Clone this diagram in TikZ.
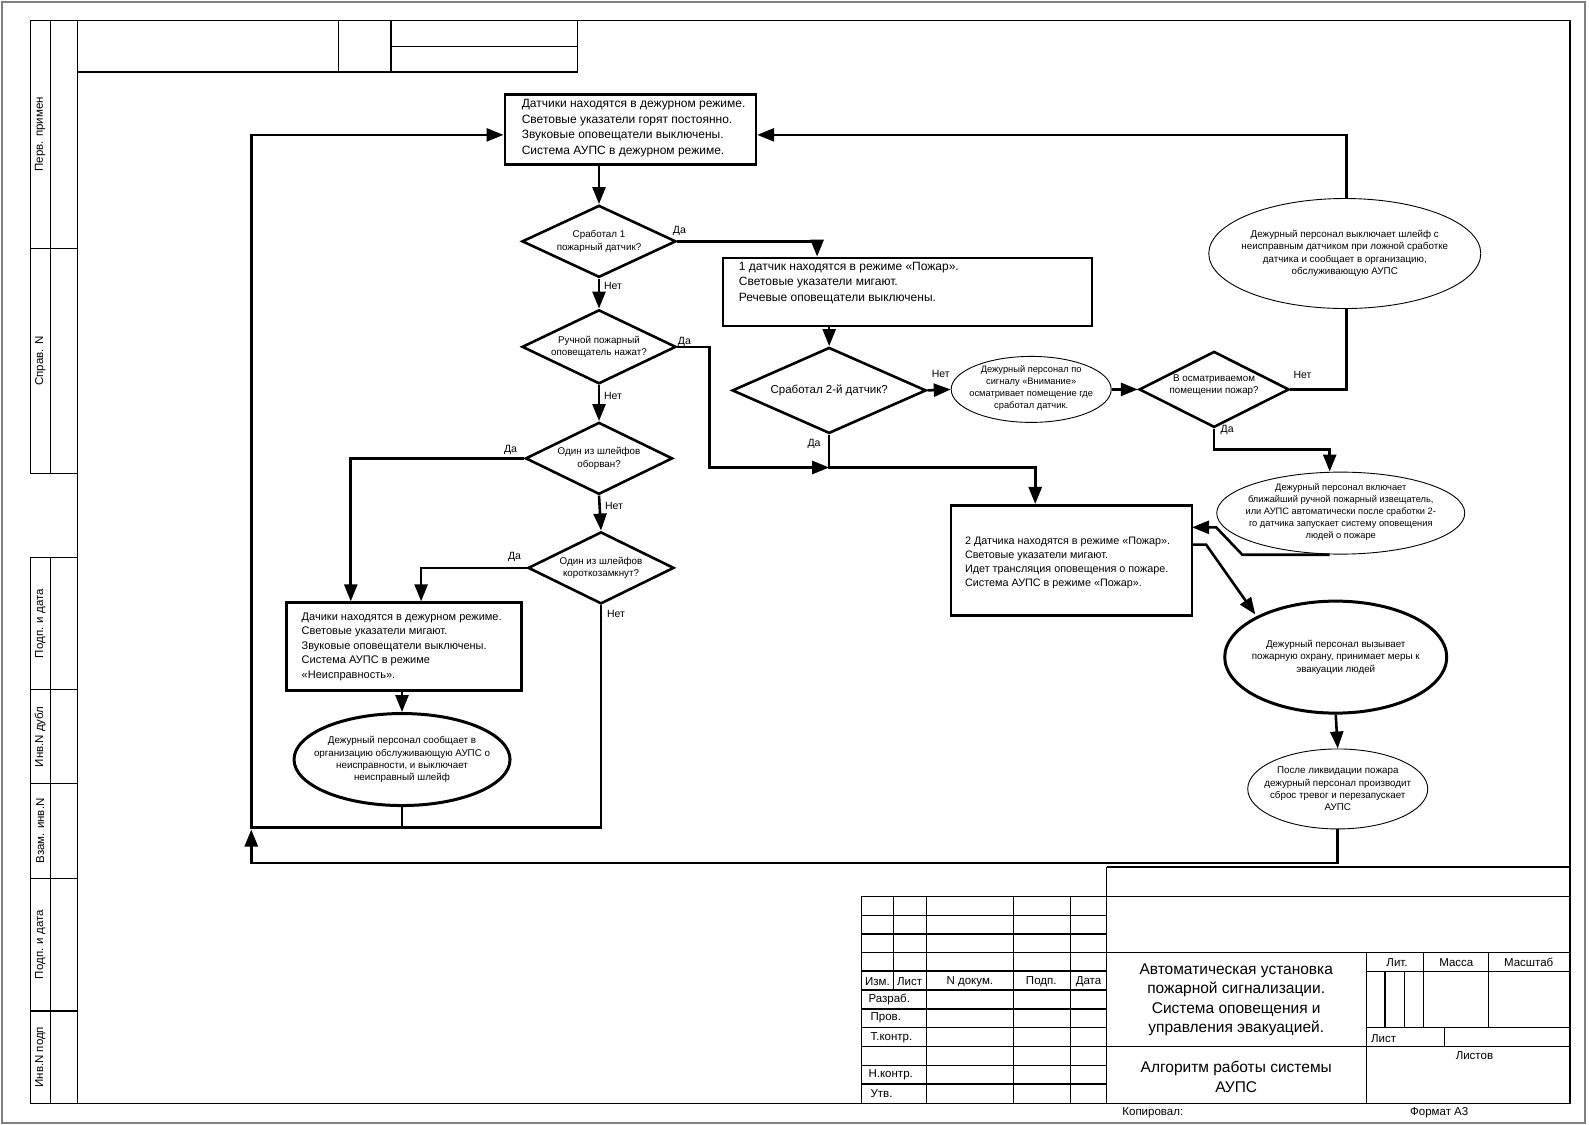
\documentclass[tikz,border=0pt]{standalone}
\usepackage{fontspec}
\setmainfont{Liberation Sans}
\usetikzlibrary{shapes.geometric,arrows.meta}
\begin{document}
\begin{tikzpicture}[x=1.005pt,y=-1.014pt,
  fl/.style={line width=2.6pt},
  ar/.style={fl,-{Triangle[length=17pt,width=13pt]}},
  box/.style={draw,line width=2.6pt,rectangle,anchor=north west,inner sep=0},
  dia/.style={draw,line width=2.6pt,diamond,inner sep=0},
  ell/.style={draw,line width=0.9pt,ellipse,inner sep=0},
  ct/.style={font=\fontsize{9.8}{12.3}\selectfont,align=center,inner sep=0},
  thk/.style={line width=3pt},
  lbl/.style={font=\fontsize{10.5}{12.5}\selectfont,inner sep=0},
  tb/.style={line width=1.1pt},
  tt/.style={font=\fontsize{11.5}{13}\selectfont,inner sep=0},
  bt/.style={font=\fontsize{12}{15.5}\selectfont,align=left,anchor=north west,inner sep=0}
]
\useasboundingbox (0,0) rectangle (1581,1108.5);
% outer frames
\draw[gray,line width=2pt] (1.5,1.5) rectangle (1577,1107);
\draw[line width=1.5pt] (77,20) rectangle (1562,1088);
% left strip
\foreach \a/\b/\t in {20/245/Перв. примен,245/467/Справ. N,550/680/Подп. и дата,680/773/Инв.N дубл,773/866/Взам. инв.N,866/997/Подп. и дата,997/1088/Инв.N подп}{
  \draw[tb] (30,\a) rectangle (77,\b);
  \draw[tb] (50,\a) -- (50,\b);
  \node[tt,rotate=90] (s\a) at (40,{(\a+\b)/2}) {\t};
}
% top-left block
\draw[tb] (77,71) -- (575,71) -- (575,20);
\draw[tb] (337,20) -- (337,71) (389,20) -- (389,71) (389,46) -- (575,46);
% title block
\draw[tb] (1101,855) -- (1562,855) (1101,855) -- (1101,1088) (1101,884) -- (1562,884);
\foreach \y in {884,902.5,921,939.5,958,976.5,995,1013.5,1032,1050.5,1069}{\draw[tb] (857,\y) -- (1101,\y);}
\draw[line width=2pt] (857,958) -- (1101,958) (857,976.5) -- (1101,976.5);
\draw[tb] (857,884) -- (857,1088);
\draw[tb] (889,884) -- (889,976.5) (922,884) -- (922,1088) (1008,884) -- (1008,1088) (1065,884) -- (1065,1088);
\draw[tb] (1101,939.5) -- (1562,939.5) (1101,1032) -- (1562,1032) (1360,939.5) -- (1360,1088);
\draw[tb] (1360,958) -- (1562,958) (1360,1013.5) -- (1562,1013.5);
\draw[tb] (1378,958) -- (1378,1013.5) (1397,958) -- (1397,1013.5) (1416,939.5) -- (1416,1013.5) (1481,939.5) -- (1481,1013.5) (1437,1013.5) -- (1437,1032);
\node[tt] (t1) at (873,968) {Изм.};
\node[tt] (t2) at (905,968) {Лист};
\node[tt] (t3) at (965,968) {N докум.};
\node[tt] (t4) at (1036,968) {Подп.};
\node[tt] (t5) at (1083,968) {Дата};
\node[tt,anchor=west] (t6) at (864,986) {Разраб.};
\node[tt,anchor=west] (t7) at (866,1004) {Пров.};
\node[tt,anchor=west] (t8) at (866,1023) {Т.контр.};
\node[tt,anchor=west] (t9) at (864,1060) {Н.контр.};
\node[tt,anchor=west] (t10) at (866,1078) {Утв.};
\node[tt] (t11) at (1390,949) {Лит.};
\node[tt] (t12) at (1449,949) {Масса};
\node[tt] (t13) at (1521,949) {Масштаб};
\node[tt,anchor=west] (t14) at (1364,1024) {Лист};
\node[tt] (t15) at (1467,1041) {Листов};
\node[font=\fontsize{15.5}{19.5}\selectfont,align=center,inner sep=0] (t16) at (1230,986) {Автоматическая установка\\пожарной сигнализации.\\Система оповещения и\\управления эвакуацией.};
\node[font=\fontsize{15.5}{19.5}\selectfont,align=center,inner sep=0] (t17) at (1230,1062) {Алгоритм работы системы\\АУПС};
\node[tt] (t18) at (1147,1097) {Копировал:};
\node[tt] (t19) at (1432,1097) {Формат А3};

% flowchart
\node[box,minimum width=251,minimum height=70] (b1) at (501,92) {};
\node[bt] (b1t) at (519,98) {Датчики находятся в дежурном режиме.\\Световые указатели горят постоянно.\\Звуковые оповещатели выключены.\\Система АУПС в дежурном режиме.};
\node[box,minimum width=369,minimum height=68] (b2) at (718,253) {};
\node[bt] (b2t) at (735,258) {1 датчик находятся в режиме «Пожар».\\Световые указатели мигают.\\Речевые оповещатели выключены.};
\node[box,minimum width=241,minimum height=110] (b3) at (945,497) {};
\node[bt,font=\fontsize{10.8}{14}\selectfont] (b3t) at (960,529) {2 Датчика  находятся в режиме «Пожар».\\Световые указатели мигают.\\Идет трансляция оповещения о пожаре.\\Система АУПС в  режиме «Пожар».};
\node[box,minimum width=235,minimum height=88] (b4) at (284,593) {};
\node[bt,font=\fontsize{11}{14.5}\selectfont] (b4t) at (300,604) {Дачики находятся в дежурном режиме.\\Световые указатели мигают.\\Звуковые оповещатели выключены.\\Система АУПС в  режиме\\«Неисправность».};

\node[dia,minimum width=154,minimum height=72] (d1) at (596,238) {};
\node[ct] (d1t) at (596,238) {Сработал 1\\пожарный датчик?};
\node[dia,minimum width=154,minimum height=74] (d2) at (596,342) {};
\node[ct] (d2t) at (596,342) {Ручной пожарный\\оповещатель нажат?};
\node[dia,minimum width=147,minimum height=72] (d3) at (596,452) {};
\node[ct] (d3t) at (596,452) {Один из шлейфов\\оборван?};
\node[dia,minimum width=146,minimum height=72] (d4) at (598,560) {};
\node[ct] (d4t) at (598,560) {Один из шлейфов\\короткозамкнут?};
\node[dia,minimum width=194,minimum height=86] (d5) at (825,385) {};
\node[ct,font=\fontsize{11.5}{13}\selectfont] (d5t) at (825,385) {Сработал 2-й датчик?};
\node[dia,minimum width=150,minimum height=76] (d6) at (1208,384) {};
\node[ct] (d6t) at (1208,380) {В осматриваемом\\помещении пожар?};

\node[ell,thk,minimum width=216,minimum height=92] (e1) at (400,749) {};
\node[ct] (e1t) at (400,749) {Дежурный персонал сообщает в\\организацию обслуживающую АУПС о\\неисправности, и выключает\\неисправный шлейф};
\node[ell,minimum width=160,minimum height=66] (e2) at (1026,384) {};
\node[ct,font=\fontsize{9.3}{12}\selectfont] (e2t) at (1026,383) {Дежурный персонал по\\сигналу «Внимание»\\осматривает помещение где\\сработал датчик.};
\node[ell,minimum width=272,minimum height=110] (e3) at (1338,250) {};
\node[ct] (e3t) at (1338,250) {Дежурный персонал выключает шлейф с\\неисправным датчиком при ложной сработке\\датчика и сообщает в организацию,\\обслуживающую АУПС};
\node[ell,minimum width=248,minimum height=82] (e4) at (1334,506) {};
\node[ct,font=\fontsize{9.3}{12}\selectfont] (e4t) at (1334,505) {Дежурный персонал включает\\ближайший ручной пожарный извещатель,\\или АУПС автоматически  после сработки 2-\\го датчика запускает систему оповещения\\людей о пожаре};
\node[ell,thk,minimum width=222,minimum height=112] (e5) at (1329,648) {};
\node[ct] (e5t) at (1329,648) {Дежурный персонал вызывает\\пожарную охрану, принимает меры к\\эвакуации  людей};
\node[ell,minimum width=180,minimum height=80] (e6) at (1331,778) {};
\node[ct] (e6t) at (1331,778) {После ликвидации пожара\\дежурный персонал производит\\сброс тревог и перезапускает\\АУПС};

% labels
\node[lbl] (l1) at (676,228) {Да};
\node[lbl] (l2) at (610,282) {Нет};
\node[lbl] (l3) at (681,337) {Да};
\node[lbl] (l4) at (610,390) {Нет};
\node[lbl] (l5) at (508,444) {Да};
\node[lbl] (l6) at (611,499) {Нет};
\node[lbl] (l7) at (512,549) {Да};
\node[lbl] (l8) at (613,605) {Нет};
\node[lbl] (l9) at (936,369) {Нет};
\node[lbl] (l10) at (810,438) {Да};
\node[lbl] (l11) at (1296,370) {Нет};
\node[lbl] (l12) at (1221,424) {Да};

% connectors
\coordinate (j1) at (825,461);
\coordinate (lp) at (250,816);
\coordinate (lp2) at (250,851);
\draw[ar] (b1.south -| d1.north) -- (d1.north);
\draw[ar] (d1.east) -- (813,238) -- (813,253);
\draw[ar] (d1.south) -- (d2.north);
\draw[ar] (d2.south) -- (d3.north);
\draw[ar] (d3.south) -- (d4.north);
\draw[ar] (d2.east) -- (706,342) -- (706,461) -- (j1);
\draw[ar] (d3.west) -- (349,452) -- (349,593);
\draw[ar] (d4.west) -- (419,560) -- (419,593);
\draw[ar] (b4.south -| e1.north) -- (e1.north);
\draw[fl] (d4.south) -- (598,816) -- (400,816);
\draw[ar] (e1.south) -- (400,816) -- (lp) -- (250,133) -- (b1.west |- 0,133);
\draw[ar] (b2.south -| d5.north) -- (d5.north);
\draw[ar] (d5.east) -- (e2.west);
\draw[ar] (d5.south) -- (j1) -- (1030,461) -- (1030,497);
\draw[ar] (e2.east) -- (d6.west);
\draw[fl] (d6.east) -- (1340,384) -- (1340,305);
\draw[ar] (1340,195) -- (1340,133) -- (b1.east |- 0,133);
\draw[ar] (d6.south) -- (1208,443) -- (1323,443) -- (1323,465);
\draw[ar] (1323,547) -- (1236,547) -- (1210,520) -- (1186,520);
\draw[ar] (1186,537) -- (1200,537) -- (1249,606);
\draw[ar] (e5.south) -- (e6.north);
\draw[ar] (e6.south) -- (1331,851) -- (lp2) -- (250,818);
\end{tikzpicture}
\end{document}
